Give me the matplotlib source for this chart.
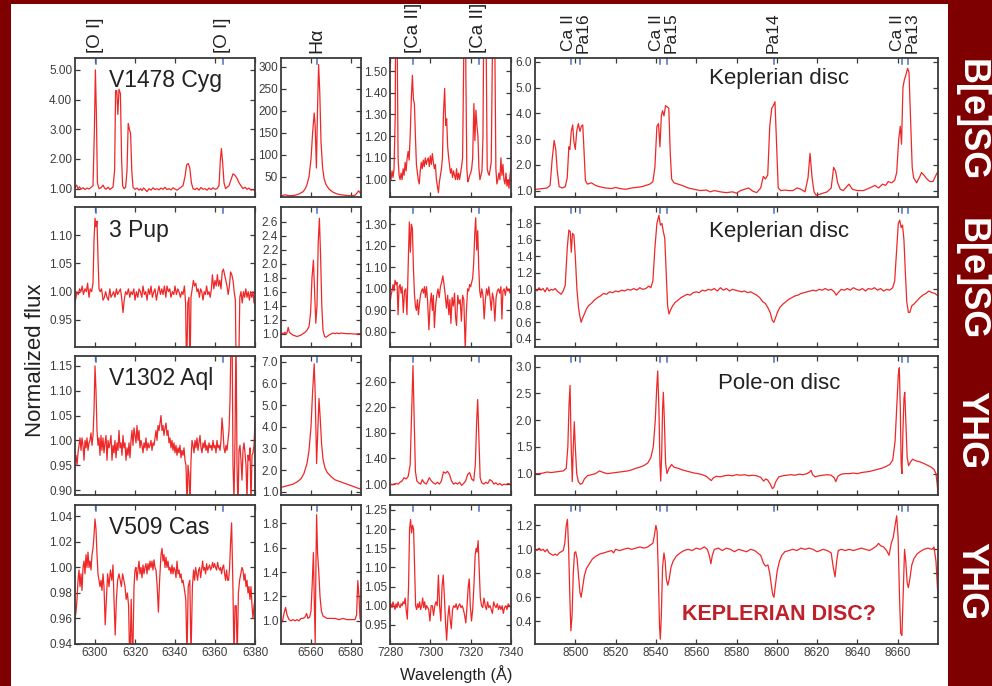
import numpy as np
import matplotlib
matplotlib.use("Agg")
import matplotlib.pyplot as plt
from matplotlib.patches import Rectangle
from matplotlib.ticker import FixedLocator, FormatStrFormatter

plt.rcParams['font.family'] = ['Liberation Sans', 'DejaVu Sans']

stars = ["V1478 Cyg", "3 Pup", "V1302 Aql", "V509 Cas"]
classes = ["B[e]SG", "B[e]SG", "YHG", "YHG"]
disc_notes = ["Keplerian disc", "Keplerian disc", "Pole-on disc", "KEPLERIAN DISC?"]

# line identifications, Angstrom
oi_lines = [6300.3, 6363.8]
ha_lines = [6562.8]
caf_lines = [7291.5, 7323.9]
tri_lines = [8498.0, 8502.5, 8542.1, 8545.4, 8598.4, 8662.1, 8665.0]
oi_labels = ["[O I]", "[O I]"]
ha_labels = ["H\u03b1"]
caf_labels = ["[Ca II]", "[Ca II]"]
tri_groups = [[8498.0, 8502.5], [8542.1, 8545.4], [8598.4], [8662.1, 8665.0]]
tri_labels = ["Ca II\nPa16", "Ca II\nPa15", "Pa14", "Ca II\nPa13"]

# ---- spectra: (wavelength, normalized flux) ----
cyg_oi = [(6290, 1.05), (6290.8, 1.12), (6291.5, 1.0), (6292.3, 1.06), (6293, 0.98), (6294, 1.03),
          (6295, 0.97), (6296, 1.02), (6297, 0.99), (6298, 1.04), (6299, 1.1), (6299.7, 3.0),
          (6300.2, 5.0), (6300.7, 3.5), (6301.2, 1.2), (6302, 1.0), (6303, 1.03), (6304, 1.12),
          (6304.8, 1.02), (6305.5, 0.98), (6306.5, 1.05), (6307.5, 0.97), (6308.3, 1.02), (6309, 1.05),
          (6309.8, 1.6), (6310.3, 4.3), (6310.9, 4.3), (6311.4, 3.5), (6312, 4.35), (6312.7, 4.2),
          (6313.3, 2.0), (6313.8, 1.1), (6314.5, 1.0), (6315.3, 1.05), (6316, 1.6), (6316.6, 3.2),
          (6317.2, 3.0), (6317.8, 2.85), (6318.4, 1.6), (6319, 1.05), (6320, 0.98), (6321, 1.02),
          (6322, 0.95), (6322.8, 1.0), (6323.5, 0.94), (6324.3, 1.02), (6325, 0.98), (6326, 0.9),
          (6327, 1.0), (6328, 0.95), (6329, 1.03), (6330, 0.97), (6331, 1.0), (6332, 0.96),
          (6333, 1.02), (6334, 0.98), (6335, 1.05), (6336, 0.97), (6337, 1.0), (6338, 0.96),
          (6339, 1.03), (6340, 0.99), (6341, 0.95), (6342, 1.0), (6343, 1.05), (6344, 1.1),
          (6345, 1.4), (6345.8, 1.8), (6346.6, 1.85), (6347.4, 1.7), (6348.2, 1.2), (6349, 1.0),
          (6350, 0.97), (6351, 1.02), (6352, 0.95), (6353, 1.04), (6354, 0.98), (6355, 1.0),
          (6356, 0.95), (6357, 1.02), (6358, 0.97), (6359, 1.03), (6360, 0.98), (6361, 1.0),
          (6362, 1.1), (6362.7, 2.0), (6363.2, 2.35), (6363.8, 1.9), (6364.5, 1.2), (6365.3, 1.0),
          (6366, 1.05), (6367, 1.1), (6368, 1.3), (6369, 1.5), (6370, 1.45), (6371, 1.35),
          (6372, 1.2), (6373, 1.1), (6374, 1.0), (6375, 1.05), (6376, 0.98), (6377, 1.02),
          (6378, 0.95), (6379, 0.97), (6380, 0.93)]

pup_oi = [(6290, 0.98), (6290.5, 0.99), (6291, 1.0), (6291.7, 0.995), (6292.3, 1.005), (6293, 1.0),
          (6293.6, 1.01), (6294.2, 0.995), (6295, 1.005), (6295.7, 1.0), (6296.3, 1.015), (6297, 0.99),
          (6297.6, 1.005), (6298.3, 1.0), (6299, 1.015), (6299.5, 1.09), (6300, 1.13), (6300.5, 1.115),
          (6301, 1.125), (6301.5, 1.06), (6302, 1.005), (6302.6, 1.0), (6303.3, 1.005), (6304, 0.985),
          (6304.7, 0.99), (6305.3, 1.0), (6306, 0.99), (6306.7, 0.985), (6307.4, 1.005), (6308, 0.99),
          (6308.7, 0.995), (6309.3, 1.0), (6310, 0.99), (6310.7, 1.005), (6311.3, 0.995), (6312, 1.0),
          (6312.7, 1.005), (6313.3, 0.99), (6314, 0.963), (6314.6, 0.985), (6315.3, 1.0), (6316, 0.995),
          (6316.7, 1.005), (6317.4, 0.99), (6318, 1.0), (6318.7, 0.995), (6319.4, 1.005), (6320, 0.985),
          (6320.7, 1.0), (6321.4, 0.99), (6322, 1.005), (6322.7, 1.0), (6323.4, 0.99), (6324, 1.01),
          (6324.7, 0.995), (6325.4, 1.0), (6326, 0.985), (6326.7, 1.005), (6327.4, 0.995), (6328, 1.01),
          (6328.7, 0.99), (6329.4, 1.0), (6330, 1.005), (6330.7, 0.985), (6331.4, 1.0), (6332, 1.01),
          (6332.7, 0.995), (6333.4, 1.005), (6334, 0.995), (6334.7, 1.01), (6335.4, 0.99), (6336, 1.01),
          (6336.7, 1.0), (6337.4, 1.005), (6338, 0.99), (6338.7, 1.0), (6339.4, 0.995), (6340, 1.01),
          (6340.7, 0.995), (6341.4, 1.005), (6342, 1.0), (6342.7, 0.99), (6343.4, 1.0), (6344, 0.995),
          (6344.7, 1.01), (6345.3, 0.98), (6345.8, 0.85), (6346.4, 0.98), (6347, 0.99), (6347.5, 0.85),
          (6348, 0.99), (6348.6, 1.005), (6349.2, 1.02), (6349.8, 1.01), (6350.4, 1.015), (6351, 1.0),
          (6351.6, 1.005), (6352.2, 0.99), (6352.8, 1.005), (6353.4, 1.0), (6354, 0.985), (6354.6, 1.0),
          (6355.2, 0.995), (6355.8, 1.01), (6356.4, 0.995), (6357, 1.0), (6357.6, 0.99), (6358.2, 1.005),
          (6358.7, 1.03), (6359.4, 1.005), (6360, 1.02), (6360.6, 1.01), (6361.2, 1.03), (6361.8, 1.01),
          (6362.4, 1.02), (6363, 1.005), (6363.6, 1.035), (6364.2, 1.04), (6364.8, 1.03), (6365.4, 1.02),
          (6366, 1.01), (6366.6, 0.995), (6367.2, 1.01), (6367.8, 1.035), (6368.4, 1.03), (6369, 1.02),
          (6369.6, 1.0), (6370.2, 0.985), (6370.6, 0.85), (6371.2, 0.9), (6371.8, 0.85), (6372.4, 0.99),
          (6373, 1.0), (6373.6, 0.98), (6374.2, 1.0), (6374.8, 0.99), (6375.4, 1.005), (6376, 0.99),
          (6376.6, 1.0), (6377.2, 0.985), (6377.8, 1.0), (6378.4, 0.99), (6379, 1.0), (6379.5, 0.98),
          (6380, 0.985)]

aql_oi = [(6290, 0.96), (6290.5, 0.97), (6291, 0.95), (6291.5, 0.975), (6292, 0.99), (6292.5, 1.005),
          (6293, 0.98), (6293.5, 1.005), (6294, 0.99), (6294.5, 0.96), (6295, 1.0), (6295.5, 0.985),
          (6296, 1.005), (6296.5, 0.98), (6297, 0.995), (6297.5, 1.0), (6298, 1.015), (6298.5, 0.99),
          (6299, 1.01), (6299.5, 1.06), (6300, 1.15), (6300.5, 1.1), (6301, 1.02), (6301.5, 0.99),
          (6302, 1.005), (6302.5, 0.97), (6303, 1.01), (6303.5, 0.98), (6304, 1.005), (6304.5, 0.975),
          (6305, 0.995), (6305.5, 1.01), (6306, 0.96), (6306.5, 1.0), (6307, 0.985), (6307.5, 0.995),
          (6308, 1.01), (6308.5, 0.96), (6309, 0.99), (6309.5, 0.975), (6310, 1.0), (6310.5, 0.965),
          (6311, 0.995), (6311.5, 0.98), (6312, 1.02), (6312.5, 0.985), (6313, 0.995), (6313.5, 0.97),
          (6314, 1.01), (6314.5, 0.985), (6315, 0.995), (6315.5, 0.96), (6316, 0.985), (6316.5, 0.97),
          (6317, 0.995), (6317.5, 0.965), (6318, 1.0), (6318.5, 1.02), (6319, 0.99), (6319.5, 1.025),
          (6320, 1.01), (6320.5, 0.995), (6321, 1.03), (6321.5, 1.0), (6322, 1.02), (6322.5, 0.985),
          (6323, 1.0), (6323.5, 0.99), (6324, 0.975), (6324.5, 0.995), (6325, 0.985), (6325.5, 1.005),
          (6326, 0.98), (6326.5, 0.995), (6327, 0.985), (6327.5, 0.99), (6328, 1.0), (6328.5, 0.98),
          (6329, 0.995), (6329.5, 0.99), (6330, 1.005), (6330.5, 1.02), (6331, 1.0), (6331.5, 1.03),
          (6332, 1.02), (6332.5, 1.035), (6333, 1.05), (6333.5, 1.02), (6334, 1.03), (6334.5, 1.01),
          (6335, 1.025), (6335.5, 1.035), (6336, 1.01), (6336.5, 1.02), (6337, 0.995), (6337.5, 1.005),
          (6338, 0.985), (6338.5, 1.0), (6339, 0.98), (6339.5, 0.995), (6340, 0.975), (6340.5, 0.99),
          (6341, 0.97), (6341.5, 0.985), (6342, 0.975), (6342.5, 0.99), (6343, 0.965), (6343.5, 0.98),
          (6344, 0.97), (6344.5, 0.985), (6345, 0.96), (6345.5, 0.95), (6346, 0.87), (6346.5, 0.95),
          (6347, 0.93), (6347.5, 0.87), (6348, 0.96), (6348.5, 1.0), (6349, 0.99), (6349.5, 0.975),
          (6350, 1.0), (6350.5, 0.985), (6351, 1.005), (6351.5, 0.98), (6352, 0.995), (6352.5, 1.01),
          (6353, 0.985), (6353.5, 0.975), (6354, 0.995), (6354.5, 0.985), (6355, 1.0), (6355.5, 0.98),
          (6356, 0.99), (6356.5, 0.975), (6357, 0.995), (6357.5, 0.985), (6358, 0.99), (6358.5, 0.98),
          (6359, 1.0), (6359.5, 0.985), (6360, 0.99), (6360.5, 0.975), (6361, 1.0), (6361.5, 0.985),
          (6362, 0.99), (6362.5, 0.98), (6363, 1.0), (6363.5, 1.045), (6364, 1.02), (6364.5, 0.985),
          (6365, 0.975), (6365.5, 0.99), (6366, 0.98), (6366.5, 1.0), (6367, 1.02), (6367.5, 1.08),
          (6368, 1.2), (6368.5, 1.25), (6369, 0.95), (6369.5, 0.88), (6370, 1.0), (6370.5, 1.22),
          (6371, 0.95), (6371.5, 0.86), (6372, 0.98), (6372.5, 0.99), (6373, 0.96), (6373.5, 0.92),
          (6374, 0.98), (6374.5, 0.995), (6375, 0.975), (6375.5, 0.95), (6376, 0.88), (6376.5, 0.97),
          (6377, 0.96), (6377.5, 0.985), (6378, 0.87), (6378.5, 0.97), (6379, 0.975), (6379.5, 0.99),
          (6380, 1.04)]

cas_oi = [(6290, 0.96), (6290.5, 0.965), (6291, 0.975), (6291.5, 0.99), (6292, 0.998), (6292.5, 0.985),
          (6293, 0.995), (6293.5, 0.982), (6294, 1.0), (6294.5, 1.005), (6295, 0.995), (6295.5, 1.01),
          (6296, 1.0), (6296.5, 1.012), (6297, 1.0), (6297.5, 1.005), (6298, 0.998), (6298.5, 1.01),
          (6299, 1.015), (6299.5, 1.025), (6300, 1.038), (6300.5, 1.03), (6301, 1.01), (6301.5, 0.995),
          (6302, 0.99), (6302.5, 0.985), (6303, 0.99), (6303.5, 0.982), (6304, 0.995), (6304.5, 0.985),
          (6305.1, 0.955), (6305.7, 0.975), (6306.3, 0.995), (6307, 0.985), (6307.7, 0.998), (6308.4, 0.99),
          (6309, 1.002), (6309.5, 0.975), (6310.1, 0.947), (6310.7, 0.975), (6311.3, 0.99), (6312, 0.995),
          (6312.6, 0.99), (6313.2, 0.985), (6313.8, 0.995), (6314.4, 0.99), (6315, 0.985), (6315.6, 0.975),
          (6316.2, 0.98), (6316.8, 0.97), (6317.4, 0.92), (6318.1, 0.975), (6318.8, 0.92), (6319.5, 0.985),
          (6320, 0.998), (6320.5, 1.0), (6321, 0.99), (6321.5, 0.998), (6322, 1.005), (6322.5, 0.995),
          (6323, 1.0), (6323.5, 0.992), (6324, 1.002), (6324.5, 0.995), (6325, 1.0), (6325.5, 1.003),
          (6326, 0.995), (6326.5, 1.003), (6327, 0.998), (6327.5, 1.005), (6328, 1.0), (6328.5, 1.005),
          (6329, 0.998), (6329.5, 1.006), (6330, 1.0), (6330.5, 0.998), (6331.1, 0.985), (6331.7, 0.965),
          (6332.3, 0.99), (6333, 1.01), (6333.5, 1.015), (6334, 1.005), (6334.5, 1.01), (6335, 1.0),
          (6335.5, 1.008), (6336, 1.0), (6336.5, 1.005), (6337, 0.998), (6337.5, 1.0), (6338, 0.995),
          (6338.5, 1.002), (6339, 0.995), (6339.5, 1.0), (6340, 0.998), (6340.5, 0.992), (6341, 1.005),
          (6341.5, 0.995), (6342, 0.998), (6342.5, 0.992), (6343, 0.995), (6343.5, 0.988), (6344, 0.99),
          (6344.5, 0.985), (6345.4, 0.975), (6346, 0.93), (6346.6, 0.985), (6347.4, 0.99), (6348, 0.93),
          (6348.7, 0.985), (6349.3, 0.998), (6349.8, 0.99), (6350.3, 1.0), (6350.8, 0.995), (6351.3, 0.99),
          (6351.8, 0.998), (6352.3, 1.0), (6352.8, 0.992), (6353.3, 0.998), (6353.8, 1.005), (6354.3, 0.998),
          (6354.8, 1.0), (6355.3, 0.995), (6355.8, 1.003), (6356.3, 0.998), (6356.8, 1.0), (6357.3, 1.002),
          (6357.8, 0.998), (6358.3, 1.0), (6358.8, 1.004), (6359.3, 1.0), (6359.8, 1.003), (6360.3, 1.0),
          (6360.8, 0.998), (6361.3, 1.004), (6361.8, 1.0), (6362.3, 0.998), (6362.8, 1.0), (6363.3, 0.995),
          (6363.8, 1.0), (6364.3, 1.002), (6364.8, 0.995), (6365.3, 0.99), (6365.8, 0.998), (6366.3, 0.99),
          (6366.8, 0.99), (6367.3, 1.0), (6367.8, 1.02), (6368.3, 1.035), (6368.9, 0.99), (6369.5, 0.93),
          (6370, 0.97), (6370.6, 0.97), (6371.1, 0.93), (6371.7, 0.98), (6372.3, 0.99), (6372.9, 0.995),
          (6373.5, 1.0), (6374, 0.998), (6374.5, 0.99), (6375, 0.995), (6375.5, 0.985), (6376, 0.99),
          (6376.5, 0.98), (6377, 0.985), (6377.5, 0.975), (6378, 0.985), (6378.5, 0.97), (6379, 0.96),
          (6379.5, 0.97), (6380, 0.975)]

cyg_ha = [(6545, 6), (6546, 8), (6547, 9), (6548, 8), (6549, 7), (6550, 7), (6552, 8), (6554, 11),
          (6556, 16), (6557, 22), (6558, 32), (6559, 50), (6560, 90), (6560.8, 150), (6561.6, 195),
          (6562.1, 165), (6562.7, 70), (6563.2, 190), (6563.8, 305), (6564.4, 240), (6565, 130),
          (6565.8, 70), (6566.6, 45), (6567.5, 32), (6569, 22), (6571, 15), (6573, 11), (6575, 9),
          (6577, 8), (6579, 7), (6581, 7), (6582, 8), (6583, 13), (6583.8, 18), (6584.5, 14), (6585, 10)]

pup_ha = [(6545, 1.0), (6545.5, 0.99), (6546, 1.01), (6546.5, 1.0), (6547, 1.02), (6547.5, 1.0),
          (6548, 1.01), (6548.6, 1.09), (6549.2, 1.02), (6550, 1.0), (6551, 0.98), (6552, 0.97),
          (6553, 0.96), (6554, 0.97), (6555, 0.98), (6556, 1.0), (6557, 1.02), (6558, 1.05),
          (6559, 1.1), (6559.8, 1.3), (6560.5, 1.8), (6561.2, 2.05), (6561.8, 1.6), (6562.4, 1.15),
          (6563, 1.4), (6563.6, 2.3), (6564.2, 2.65), (6564.8, 2.1), (6565.4, 1.4), (6566, 1.05),
          (6566.8, 0.96), (6567.5, 0.95), (6568.5, 0.97), (6569.5, 0.99), (6571, 1.01), (6572, 1.0),
          (6573, 1.01), (6574, 1.0), (6575, 1.01), (6576, 1.005), (6578, 1.0), (6580, 1.0),
          (6582, 0.995), (6584, 1.0), (6585, 1.0)]

aql_ha = [(6545, 1.2), (6547, 1.25), (6549, 1.3), (6551, 1.35), (6553, 1.45), (6555, 1.6),
          (6556.5, 1.85), (6558, 2.3), (6559, 2.9), (6560, 4.0), (6560.8, 5.6), (6561.6, 6.9),
          (6562.1, 5.5), (6562.8, 2.3), (6563.4, 3.8), (6564.0, 5.3), (6564.6, 4.4), (6565.3, 3.2),
          (6566, 2.5), (6567, 2.1), (6568, 1.9), (6570, 1.7), (6572, 1.55), (6575, 1.45),
          (6578, 1.35), (6581, 1.25), (6583, 1.18), (6585, 1.12)]

cas_ha = [(6545, 0.98), (6545.8, 1.0), (6546.5, 1.06), (6547.3, 1.11), (6548, 1.05), (6549, 1.01),
          (6550, 1.0), (6551, 1.01), (6552, 1.0), (6553, 1.01), (6554, 1.0), (6555, 1.02),
          (6556, 1.02), (6557, 1.03), (6557.8, 1.06), (6558.5, 1.02), (6559.3, 1.03), (6560, 1.08),
          (6560.6, 1.3), (6561.2, 1.56), (6561.6, 1.2), (6562.1, 0.82), (6562.5, 1.5), (6562.8, 1.87),
          (6563.3, 1.55), (6563.9, 1.4), (6564.5, 1.2), (6565.2, 1.08), (6566, 1.04), (6567, 1.03),
          (6568, 1.02), (6570, 1.02), (6572, 1.02), (6574, 1.01), (6576, 1.02), (6578, 1.01),
          (6580, 1.01), (6582, 1.01), (6582.8, 1.05), (6583.4, 1.33), (6584, 1.2), (6584.5, 1.02),
          (6585, 1.0)]

cyg_caf = [(7280, 1.03), (7280.5, 1.0), (7281, 1.04), (7281.5, 1.01), (7282, 1.05), (7282.6, 1.3),
           (7283.1, 2.5), (7283.6, 1.6), (7284, 1.1), (7284.5, 1.02), (7285, 1.0), (7285.5, 1.03),
           (7286, 1.0), (7286.5, 1.05), (7287, 1.02), (7287.5, 1.08), (7288, 1.04), (7288.5, 1.1),
           (7289, 1.13), (7289.5, 1.09), (7290, 1.2), (7290.6, 1.38), (7291.1, 1.48), (7291.6, 1.37),
           (7292.1, 1.35), (7292.6, 1.2), (7293.1, 1.07), (7293.6, 1.03), (7294, 1.0), (7294.5, 0.98),
           (7295, 1.04), (7295.5, 1.08), (7296, 1.05), (7296.5, 1.09), (7297, 1.06), (7297.5, 1.1),
           (7298, 1.07), (7298.5, 1.09), (7299, 1.1), (7299.5, 1.06), (7300, 1.11), (7300.5, 1.07),
           (7301, 1.12), (7301.5, 1.08), (7302, 1.05), (7302.5, 1.07), (7303, 1.0), (7303.5, 0.97),
           (7304, 0.94), (7304.5, 0.99), (7305, 1.02), (7305.5, 1.05), (7306, 1.1), (7306.5, 1.3),
           (7307.1, 1.42), (7307.6, 1.25), (7308.1, 1.28), (7308.6, 1.15), (7309.1, 1.1), (7309.6, 1.06),
           (7310, 1.03), (7310.5, 1.05), (7311, 1.01), (7311.5, 1.04), (7312, 1.02), (7312.5, 1.0),
           (7313, 1.05), (7313.5, 1.0), (7314, 1.03), (7314.5, 1.0), (7315, 1.03), (7315.5, 1.06),
           (7316, 1.1), (7316.6, 1.6), (7317.1, 2.8), (7317.6, 1.5), (7318.1, 1.05), (7318.6, 0.99),
           (7319, 1.0), (7319.5, 1.02), (7320, 1.03), (7320.5, 1.05), (7321, 1.1), (7321.6, 1.35),
           (7322.1, 1.18), (7322.6, 1.32), (7323.1, 1.25), (7323.6, 1.2), (7324.1, 1.05), (7324.6, 1.0),
           (7325.1, 1.02), (7325.6, 1.04), (7326.1, 1.2), (7326.7, 2.0), (7327.2, 2.8), (7327.7, 1.6),
           (7328.2, 1.05), (7328.7, 1.03), (7329.2, 1.02), (7329.7, 1.05), (7330.2, 1.08), (7330.8, 1.6),
           (7331.4, 2.5), (7332, 1.6), (7332.5, 1.05), (7333, 0.98), (7333.5, 1.0), (7334, 1.03),
           (7334.5, 1.0), (7335, 1.1), (7335.5, 1.02), (7336, 1.07), (7336.5, 1.0), (7337, 0.98),
           (7337.5, 1.03), (7338, 0.97), (7338.5, 1.0), (7339, 0.96), (7339.5, 1.02), (7340, 1.05)]

pup_caf = [(7280, 0.93), (7280.5, 0.97), (7281, 0.99), (7281.5, 1.02), (7282, 0.99), (7282.5, 1.04),
           (7283, 1.02), (7283.5, 1.03), (7284, 0.88), (7284.5, 1.01), (7285, 1.02), (7285.5, 0.98),
           (7286, 1.01), (7286.6, 0.89), (7287.2, 0.99), (7287.8, 1.0), (7288.4, 0.88), (7289, 1.1),
           (7289.6, 1.31), (7290.1, 1.17), (7290.6, 1.3), (7291.1, 1.28), (7291.6, 1.1), (7292.1, 0.98),
           (7292.6, 0.92), (7293.1, 0.9), (7293.6, 0.95), (7294.1, 0.88), (7294.6, 0.93), (7295.1, 0.97),
           (7295.6, 0.99), (7296.1, 1.0), (7296.6, 0.98), (7297.1, 1.01), (7297.6, 0.96), (7298.1, 1.01),
           (7298.6, 0.95), (7299.3, 0.81), (7299.9, 0.93), (7300.5, 0.98), (7301, 0.9), (7301.5, 0.97),
           (7302, 0.82), (7302.6, 0.92), (7303.2, 0.97), (7303.8, 1.0), (7304.4, 0.96), (7305, 1.01),
           (7305.6, 1.03), (7306.2, 1.06), (7306.8, 1.02), (7307.4, 0.97), (7308, 0.91), (7308.6, 0.97),
           (7309.2, 0.88), (7309.7, 0.95), (7310.2, 0.84), (7310.8, 0.96), (7311.4, 0.92), (7312, 0.98),
           (7312.5, 0.87), (7313, 0.83), (7313.6, 0.97), (7314.2, 0.93), (7314.8, 0.95), (7315.4, 0.85),
           (7316, 0.97), (7316.6, 0.95), (7317.3, 0.72), (7317.9, 0.9), (7318.5, 1.0), (7319, 0.99),
           (7319.5, 1.02), (7320, 1.01), (7320.5, 1.03), (7321, 1.05), (7321.5, 1.12), (7322, 1.25),
           (7322.5, 1.33), (7323, 1.18), (7323.5, 1.27), (7324, 1.1), (7324.5, 0.99), (7325, 0.96),
           (7325.5, 1.0), (7326.1, 0.97), (7326.7, 0.86), (7327.3, 0.95), (7327.9, 1.0), (7328.5, 0.97),
           (7329, 1.01), (7329.6, 0.96), (7330.2, 0.9), (7330.8, 0.98), (7331.4, 0.95), (7332, 0.85),
           (7332.6, 0.96), (7333.2, 0.99), (7333.8, 1.0), (7334.4, 0.98), (7335, 1.01), (7335.5, 0.86),
           (7336, 0.99), (7336.6, 1.0), (7337.2, 0.97), (7337.8, 1.01), (7338.4, 0.99), (7339, 1.0),
           (7339.5, 0.98), (7340, 0.99)]

aql_caf = [(7280, 1.0), (7281, 0.99), (7282, 1.0), (7283, 1.01), (7284, 1.0), (7285, 1.03),
           (7286, 1.05), (7287, 1.1), (7288, 1.08), (7289, 1.12), (7290, 1.3), (7290.8, 2.2),
           (7291.4, 2.85), (7292, 2.0), (7292.6, 1.2), (7293.3, 1.05), (7294.2, 1.02), (7295.2, 1.0),
           (7296, 1.07), (7297, 1.02), (7298, 1.0), (7299.5, 1.1), (7300.5, 1.05), (7301.5, 1.02),
           (7302.5, 1.0), (7303.5, 1.03), (7304.5, 1.0), (7305.5, 1.05), (7306.5, 1.19), (7307.5, 1.17),
           (7308.5, 1.2), (7309.5, 1.15), (7310.5, 1.05), (7311.5, 1.0), (7312.5, 1.02), (7313.5, 1.0),
           (7314.5, 1.03), (7315.5, 0.98), (7316.5, 1.01), (7317.5, 1.05), (7318.5, 1.15), (7319.5, 1.18),
           (7320.5, 1.08), (7321.5, 1.05), (7322.3, 1.3), (7323, 2.0), (7323.5, 2.32), (7324, 1.8),
           (7324.7, 1.1), (7325.5, 1.02), (7326.5, 1.0), (7327.5, 1.03), (7328.5, 1.01), (7329.5, 1.07),
           (7330.5, 1.05), (7331.5, 1.0), (7332.5, 1.02), (7333.5, 0.99), (7334.5, 1.01), (7335.5, 0.98),
           (7336.5, 1.0), (7337.5, 0.99), (7338.5, 1.01), (7339.5, 1.0), (7340, 0.98)]

cas_caf = [(7280, 1.0), (7280.5, 1.005), (7281, 0.995), (7281.5, 1.01), (7282, 1.0), (7282.5, 0.99),
           (7283, 1.005), (7283.5, 0.995), (7284, 1.01), (7284.5, 1.0), (7285, 0.995), (7285.5, 1.005),
           (7286, 1.0), (7286.5, 1.01), (7287, 1.005), (7287.5, 1.02), (7288, 0.99), (7288.6, 0.965),
           (7289.2, 1.05), (7289.7, 1.2), (7290.2, 1.225), (7290.7, 1.19), (7291.2, 1.21), (7291.7, 1.2),
           (7292.2, 1.1), (7292.7, 1.0), (7293.2, 0.99), (7293.7, 1.005), (7294.2, 0.995), (7294.7, 1.01),
           (7295.2, 0.99), (7295.7, 1.0), (7296.2, 1.02), (7296.7, 0.995), (7297.2, 1.01), (7297.7, 0.99),
           (7298.2, 1.0), (7298.7, 0.995), (7299.2, 0.99), (7299.8, 0.96), (7300.4, 1.0), (7301, 1.0),
           (7301.6, 0.975), (7302.2, 1.0), (7302.8, 1.01), (7303.4, 1.0), (7304, 1.08), (7304.6, 1.0),
           (7305.2, 0.96), (7305.8, 1.05), (7306.4, 1.08), (7307, 1.02), (7307.6, 0.95), (7308.1, 0.91),
           (7308.7, 0.97), (7309.3, 1.0), (7309.9, 0.96), (7310.4, 0.94), (7311, 0.99), (7311.6, 1.0),
           (7312.2, 0.995), (7312.8, 1.005), (7313.4, 0.99), (7314, 1.0), (7314.6, 1.005), (7315.2, 0.995),
           (7315.8, 1.0), (7316.4, 0.99), (7317, 0.975), (7317.6, 0.955), (7318.2, 1.0), (7318.8, 1.05),
           (7319.3, 1.07), (7319.8, 1.0), (7320.4, 0.96), (7321, 0.99), (7321.6, 1.05), (7322.2, 1.13),
           (7322.7, 1.15), (7323.2, 1.14), (7323.7, 1.17), (7324.2, 1.1), (7324.8, 1.02), (7325.4, 1.0),
           (7326, 0.995), (7326.6, 1.02), (7327.2, 1.0), (7327.8, 0.99), (7328.4, 1.01), (7329, 0.995),
           (7329.6, 1.0), (7330.2, 0.99), (7330.8, 0.98), (7331.4, 1.01), (7332, 1.0), (7332.6, 0.995),
           (7333.2, 1.005), (7333.8, 0.99), (7334.4, 1.0), (7335, 0.99), (7335.6, 1.0), (7336.2, 0.98),
           (7336.8, 0.995), (7337.4, 1.0), (7338, 0.99), (7338.6, 1.005), (7339.2, 1.0), (7340, 0.995)]

cyg_tri = [(8480, 1.05), (8482, 1.06), (8484, 1.08), (8486, 1.1), (8487.5, 1.2), (8488.5, 2.2),
           (8489.5, 2.95), (8490.3, 2.6), (8491, 1.8), (8492, 1.15), (8493.5, 1.1), (8495, 1.15),
           (8496, 1.5), (8496.8, 2.7), (8497.3, 2.6), (8498, 3.3), (8498.7, 3.55), (8499.3, 2.9),
           (8500, 2.6), (8500.7, 3.3), (8501.5, 3.6), (8502.3, 3.3), (8503, 3.5), (8503.7, 3.55),
           (8504.3, 2.6), (8505, 1.4), (8506, 1.25), (8508, 1.3), (8510, 1.2), (8512, 1.15),
           (8515, 1.1), (8518, 1.08), (8520, 1.12), (8522, 1.08), (8525, 1.05), (8528, 1.1),
           (8530, 1.12), (8533, 1.15), (8535, 1.2), (8537, 1.25), (8538.5, 1.35), (8539.5, 1.9),
           (8540.5, 3.5), (8541.3, 3.6), (8542, 2.7), (8542.7, 3.9), (8543.3, 4.1), (8544, 3.9),
           (8544.8, 4.3), (8545.6, 4.25), (8546.4, 4.2), (8547.1, 2.5), (8547.8, 1.45), (8549, 1.3),
           (8551, 1.25), (8553, 1.2), (8556, 1.1), (8559, 1.05), (8562, 1.0), (8565, 1.02),
           (8567, 0.95), (8569, 1.0), (8572, 0.95), (8575, 0.92), (8578, 0.95), (8580, 0.9),
           (8582, 1.0), (8584, 1.05), (8586, 1.1), (8588, 0.98), (8590, 0.92), (8592, 1.1),
           (8593.3, 1.55), (8594.3, 1.45), (8595.5, 1.6), (8596.5, 3.5), (8597.5, 4.2), (8598.3, 4.3),
           (8599.1, 4.45), (8599.8, 3.0), (8600.7, 1.1), (8602, 1.0), (8604, 1.02), (8606, 1.0),
           (8608, 1.0), (8610, 1.1), (8612, 1.05), (8614, 0.95), (8615.5, 1.5), (8616.5, 2.45),
           (8617.5, 1.5), (8618.5, 0.95), (8619.5, 0.82), (8621, 0.85), (8623, 0.9), (8625, 0.95),
           (8627, 1.1), (8628.2, 1.9), (8629.2, 1.75), (8630.2, 1.3), (8631.5, 1.05), (8633, 1.0),
           (8635.8, 1.25), (8637.5, 1.05), (8640, 1.0), (8643, 1.0), (8646, 1.1), (8648.7, 1.2),
           (8650.5, 1.1), (8652.5, 1.25), (8654, 1.2), (8655.3, 1.35), (8657, 1.3), (8658.5, 1.4),
           (8659.5, 1.7), (8660.5, 3.0), (8661.3, 3.5), (8661.9, 2.8), (8662.6, 5.0), (8663.3, 5.3),
           (8664.1, 5.5), (8664.9, 5.75), (8665.6, 5.6), (8666.4, 3.8), (8667.2, 1.9), (8667.9, 1.5),
           (8669.4, 1.3), (8671, 1.55), (8671.8, 1.7), (8673, 1.6), (8674.5, 1.45), (8676, 1.35),
           (8677.5, 1.35), (8679, 1.6), (8680, 1.75)]

pup_tri = [(8480, 1.0), (8481, 0.98), (8482, 1.02), (8483, 0.99), (8484, 1.01), (8485, 0.97),
           (8486, 1.02), (8487, 0.98), (8488, 1.0), (8489, 0.99), (8490, 1.01), (8491, 0.98),
           (8492, 0.96), (8493, 0.94), (8494, 0.98), (8495, 1.05), (8496, 1.5), (8496.8, 1.72),
           (8497.5, 1.7), (8498, 1.45), (8498.6, 1.68), (8499.3, 1.66), (8500, 1.4), (8500.8, 1.0),
           (8501.6, 0.78), (8502.2, 0.68), (8502.9, 0.6), (8503.6, 0.65), (8504.5, 0.7), (8505.5, 0.76),
           (8506.5, 0.8), (8508, 0.83), (8509.5, 0.87), (8511, 0.9), (8512.5, 0.92), (8514, 0.95),
           (8515.5, 0.94), (8517, 0.97), (8518.5, 0.96), (8520, 0.98), (8521.5, 0.97), (8523, 0.99),
           (8524.5, 0.98), (8526, 1.0), (8527.5, 0.99), (8529, 1.01), (8530.5, 0.99), (8532, 1.02),
           (8533.5, 1.0), (8535, 1.01), (8536.5, 1.04), (8537.5, 1.02), (8538.5, 1.1), (8539.5, 1.5),
           (8540.5, 1.8), (8541.5, 1.9), (8542.2, 1.78), (8543, 1.8), (8543.7, 1.7), (8544.4, 1.62),
           (8545.1, 1.2), (8545.8, 0.8), (8546.5, 0.7), (8547.3, 0.75), (8548.3, 0.8), (8549.5, 0.84),
           (8551, 0.87), (8552.5, 0.9), (8554, 0.92), (8555.5, 0.94), (8557, 0.93), (8558.5, 0.96),
           (8560, 0.97), (8561.5, 0.96), (8563, 0.99), (8564.5, 0.98), (8566, 1.0), (8567.5, 0.99),
           (8569, 1.01), (8570.5, 0.98), (8572, 1.02), (8573.5, 0.99), (8575, 1.01), (8576.5, 0.98),
           (8578, 1.0), (8579.5, 0.99), (8581, 0.98), (8582.5, 0.97), (8584, 0.98), (8585.5, 0.96),
           (8587, 0.97), (8588.5, 0.95), (8590, 0.93), (8591.5, 0.9), (8593, 0.85), (8594.3, 0.83),
           (8595.5, 0.78), (8596.7, 0.72), (8597.8, 0.62), (8598.5, 0.6), (8599.3, 0.65), (8600.3, 0.72),
           (8601.5, 0.78), (8603, 0.82), (8604.5, 0.85), (8606, 0.88), (8607.5, 0.9), (8609, 0.92),
           (8610.5, 0.93), (8612, 0.95), (8613.5, 0.96), (8615, 0.97), (8616.5, 0.98), (8618, 0.99),
           (8619.5, 0.98), (8621, 1.0), (8622.5, 0.99), (8624, 1.01), (8625.5, 0.99), (8627, 1.0),
           (8628.5, 0.97), (8629.5, 0.93), (8630.5, 0.96), (8632, 1.0), (8633.5, 0.99), (8635, 1.01),
           (8636.5, 0.99), (8638, 1.02), (8639.5, 1.0), (8641, 0.99), (8642.5, 1.01), (8644, 0.98),
           (8645.5, 1.01), (8647, 1.0), (8648.5, 1.02), (8650, 0.99), (8651.5, 1.01), (8653, 0.98),
           (8654.5, 1.0), (8656, 0.99), (8657.5, 1.02), (8658.5, 1.1), (8659.5, 1.5), (8660.3, 1.8),
           (8661, 1.84), (8661.7, 1.75), (8662.4, 1.78), (8663.1, 1.6), (8663.8, 1.2), (8664.5, 0.85),
           (8665.3, 0.72), (8666, 0.72), (8667, 0.8), (8668, 0.82), (8669.5, 0.86), (8671, 0.9),
           (8672.5, 0.93), (8674, 0.95), (8675.5, 0.98), (8677, 0.96), (8678.5, 0.95), (8680, 0.92)]

aql_tri = [(8480, 1.0), (8482, 1.0), (8484, 1.01), (8486, 1.03), (8488, 1.02), (8490, 1.03),
           (8492, 1.04), (8494, 1.05), (8495.5, 1.1), (8496.3, 1.5), (8496.9, 2.3), (8497.4, 2.65),
           (8497.9, 1.6), (8498.5, 0.85), (8499, 1.5), (8499.5, 1.97), (8500, 1.5), (8500.7, 1.0),
           (8501.5, 0.85), (8502.5, 0.8), (8503.5, 0.82), (8504.5, 0.9), (8506, 0.96), (8508, 0.98),
           (8510, 1.0), (8512, 1.05), (8514, 1.02), (8516, 1.0), (8518, 1.01), (8520, 1.02),
           (8522, 1.03), (8524, 1.04), (8526, 1.05), (8528, 1.07), (8530, 1.1), (8532, 1.12),
           (8534, 1.15), (8536, 1.2), (8537.5, 1.3), (8538.7, 1.5), (8539.7, 2.0), (8540.4, 2.6),
           (8540.9, 2.92), (8541.5, 2.2), (8542.0, 1.2), (8542.4, 0.86), (8542.9, 1.4), (8543.3, 2.2),
           (8543.7, 2.52), (8544.2, 2.0), (8544.8, 1.2), (8545.5, 1.0), (8546.5, 1.1), (8547.8, 1.17),
           (8549, 1.12), (8551, 1.1), (8553, 1.07), (8555, 1.05), (8557, 1.03), (8559, 1.01),
           (8561, 1.0), (8563, 0.98), (8565, 0.95), (8566.5, 0.9), (8567.5, 0.87), (8568.5, 0.92),
           (8570, 0.95), (8572, 0.94), (8574, 0.96), (8576, 0.97), (8578, 0.96), (8580, 0.98),
           (8582, 0.97), (8584, 0.98), (8586, 0.96), (8588, 0.97), (8590, 0.96), (8592, 0.93),
           (8593.5, 0.86), (8594.5, 0.9), (8595.5, 0.88), (8596.8, 0.8), (8597.8, 0.72), (8598.5, 0.74),
           (8599.5, 0.85), (8601, 0.94), (8603, 0.96), (8605, 0.97), (8607, 0.98), (8609, 0.97),
           (8611, 0.99), (8613, 0.98), (8615, 1.0), (8616.3, 1.03), (8617, 1.06), (8617.8, 0.98),
           (8619, 0.94), (8621, 0.96), (8623, 0.97), (8625, 0.98), (8627, 0.97), (8628.5, 0.92),
           (8629.3, 0.85), (8630.3, 0.95), (8632, 0.99), (8634, 1.0), (8636, 1.0), (8638, 1.01),
           (8640, 1.0), (8642, 1.02), (8644, 1.03), (8646, 1.04), (8648, 1.06), (8650, 1.08),
           (8652, 1.1), (8654, 1.13), (8656, 1.17), (8657.5, 1.25), (8658.7, 1.6), (8659.6, 2.3),
           (8660.3, 2.85), (8660.8, 2.98), (8661.3, 2.2), (8661.7, 1.2), (8662.1, 1.0), (8662.6, 1.8),
           (8663.1, 2.4), (8663.5, 2.52), (8664, 2.0), (8664.7, 1.3), (8665.4, 1.15), (8666.4, 1.22),
           (8667.4, 1.27), (8669, 1.24), (8671, 1.22), (8673, 1.19), (8675, 1.15), (8676.6, 1.12),
           (8678, 1.08), (8679, 1.0), (8679.6, 0.8), (8680, 0.62)]

cas_tri = [(8480, 1.0), (8481, 0.99), (8482, 1.01), (8483, 0.99), (8484, 1.0), (8485, 0.98),
           (8486, 1.0), (8487, 0.97), (8488, 0.96), (8489, 0.95), (8490, 0.96), (8491, 0.95),
           (8492, 0.97), (8493, 0.98), (8494, 0.99), (8494.8, 1.05), (8495.5, 1.2), (8496.1, 1.25),
           (8496.7, 1.0), (8497.3, 0.6), (8497.8, 0.32), (8498.4, 0.45), (8499, 0.8), (8499.6, 0.97),
           (8500.2, 0.98), (8500.9, 0.92), (8501.6, 0.78), (8502.3, 0.64), (8502.9, 0.6), (8503.6, 0.68),
           (8504.5, 0.78), (8505.5, 0.84), (8507, 0.88), (8508.5, 0.92), (8510, 0.94), (8512, 0.96),
           (8514, 0.97), (8516, 0.98), (8518, 0.99), (8519, 0.97), (8520, 1.0), (8522, 0.99),
           (8524, 1.0), (8526, 1.01), (8528, 1.0), (8530, 1.01), (8532, 1.02), (8534, 1.01),
           (8536, 1.02), (8537.5, 1.04), (8538.5, 1.05), (8539.3, 1.12), (8540, 1.2), (8540.6, 1.15),
           (8541.2, 0.8), (8541.8, 0.35), (8542.2, 0.25), (8542.7, 0.45), (8543.3, 0.85), (8544, 0.97),
           (8544.6, 0.9), (8545.2, 0.75), (8545.9, 0.7), (8546.6, 0.75), (8547.5, 0.85), (8548.5, 0.9),
           (8550, 0.94), (8552, 0.97), (8554, 0.99), (8556, 1.0), (8558, 0.99), (8560, 1.01),
           (8562, 1.0), (8564, 1.02), (8565.5, 1.0), (8566.5, 0.95), (8567.3, 0.88), (8568, 0.95),
           (8569, 1.0), (8571, 1.01), (8573, 0.99), (8575, 1.01), (8577, 1.0), (8579, 0.98),
           (8581, 1.0), (8583, 0.99), (8585, 0.98), (8587, 1.0), (8589, 0.99), (8590.5, 0.97),
           (8592, 0.95), (8593.5, 0.88), (8594.5, 0.86), (8595.6, 0.87), (8596.5, 0.8), (8597.3, 0.7),
           (8598, 0.62), (8598.6, 0.6), (8599.3, 0.7), (8600.2, 0.82), (8601.3, 0.9), (8602.5, 0.95),
           (8604, 0.98), (8606, 0.99), (8608, 1.0), (8610, 0.99), (8612, 1.01), (8614, 1.0),
           (8616, 1.01), (8618, 1.0), (8620, 0.98), (8621.5, 0.99), (8623, 1.0), (8625, 0.99),
           (8627, 0.97), (8628, 0.85), (8628.9, 0.77), (8629.7, 0.9), (8630.5, 0.99), (8632, 1.0),
           (8634, 0.99), (8636, 1.0), (8638, 0.99), (8640, 1.0), (8642, 1.01), (8644, 1.0),
           (8646, 0.99), (8648, 1.01), (8649.5, 1.03), (8650.5, 1.05), (8651.5, 1.03), (8653, 1.02),
           (8654.5, 0.99), (8655.7, 0.95), (8656.8, 1.05), (8657.8, 1.1), (8658.7, 1.2), (8659.5, 1.28),
           (8660.2, 1.1), (8660.9, 0.6), (8661.5, 0.3), (8662.1, 0.28), (8662.7, 0.6), (8663.4, 1.0),
           (8664, 0.9), (8664.7, 0.72), (8665.3, 0.68), (8666, 0.75), (8667, 0.87), (8668, 0.92),
           (8669.5, 0.96), (8671, 0.98), (8673, 1.0), (8675, 1.01), (8677, 1.0), (8678, 1.02),
           (8679, 0.9), (8679.5, 0.75), (8680, 0.6)]

spectra = [[cyg_oi, cyg_ha, cyg_caf, cyg_tri],
           [pup_oi, pup_ha, pup_caf, pup_tri],
           [aql_oi, aql_ha, aql_caf, aql_tri],
           [cas_oi, cas_ha, cas_caf, cas_tri]]

# ---- axis setup ----
xlims = [(6290, 6380), (6545, 6585), (7280, 7340), (8480, 8680)]
xticks = [[6300, 6320, 6340, 6360, 6380], [6560, 6580], [7280, 7300, 7320, 7340],
          [8500, 8520, 8540, 8560, 8580, 8600, 8620, 8640, 8660]]
ylims = [[(0.72, 5.4), (4, 320), (0.92, 1.56), (0.75, 6.15)],
         [(0.902, 1.15), (0.81, 2.81), (0.73, 1.38), (0.30, 2.0)],
         [(0.89, 1.17), (0.85, 7.26), (0.83, 3.0), (0.60, 3.2)],
         [(0.94, 1.049), (0.81, 1.95), (0.90, 1.263), (0.21, 1.37)]]
yticks = [[[1, 2, 3, 4, 5], [50, 100, 150, 200, 250, 300], [1.0, 1.1, 1.2, 1.3, 1.4, 1.5], [1, 2, 3, 4, 5, 6]],
          [[0.95, 1.0, 1.05, 1.10], [1.0, 1.2, 1.4, 1.6, 1.8, 2.0, 2.2, 2.4, 2.6],
           [0.8, 0.9, 1.0, 1.1, 1.2, 1.3], [0.4, 0.6, 0.8, 1.0, 1.2, 1.4, 1.6, 1.8]],
          [[0.90, 0.95, 1.0, 1.05, 1.10, 1.15], [1, 2, 3, 4, 5, 6, 7],
           [1.0, 1.4, 1.8, 2.2, 2.6], [1.0, 1.5, 2.0, 2.5, 3.0]],
          [[0.94, 0.96, 0.98, 1.0, 1.02, 1.04], [1.0, 1.2, 1.4, 1.6, 1.8],
           [0.95, 1.0, 1.05, 1.10, 1.15, 1.20, 1.25], [0.4, 0.6, 0.8, 1.0, 1.2]]]
yfmt = [["%.2f", "%d", "%.2f", "%.1f"],
        ["%.2f", "%.1f", "%.2f", "%.1f"],
        ["%.2f", "%.1f", "%.2f", "%.1f"],
        ["%.2f", "%.1f", "%.2f", "%.1f"]]

W, H = 992, 686
col_px = [(75, 255), (281, 361), (390, 511), (535, 938)]
row_px = [(58, 197), (207, 347), (356, 495), (505, 644)]

line_color = '#ee1c1c'
id_color = '#4a6fc4'
frame_color = '#3a3a3a'
tick_text = '#3c3c3c'

fig = plt.figure(figsize=(W / 100, H / 100), dpi=100)
fig.patch.set_facecolor('#7f0000')
fig.add_artist(Rectangle((11 / W, 0), 937 / W, 682 / H, transform=fig.transFigure,
                         facecolor='white', edgecolor='none', zorder=0))

id_lines = [oi_lines, ha_lines, caf_lines, tri_lines]

for r in range(4):
    for c in range(4):
        x0, x1 = col_px[c]
        y0, y1 = row_px[r]
        ax = fig.add_axes([x0 / W, 1 - y1 / H, (x1 - x0) / W, (y1 - y0) / H])
        w, f = zip(*spectra[r][c])
        ax.plot(w, f, color=line_color, lw=0.9, alpha=0.95)
        ax.set_xlim(*xlims[c])
        ax.set_ylim(*ylims[r][c])
        for lw_ in id_lines[c]:
            ax.axvline(lw_, ymin=0.955, ymax=1.0, color=id_color, lw=1.1)
        ax.xaxis.set_major_locator(FixedLocator(xticks[c]))
        ax.yaxis.set_major_locator(FixedLocator(yticks[r][c]))
        ax.yaxis.set_major_formatter(FormatStrFormatter(yfmt[r][c]))
        ax.tick_params(direction='in', top=True, right=True, length=3.5, width=0.9,
                       color=frame_color, labelcolor=tick_text, labelsize=8.5, pad=2)
        if r < 3:
            ax.tick_params(labelbottom=False)
        for s in ax.spines.values():
            s.set_color(frame_color)
            s.set_linewidth(1.3)

        if c == 0:
            ax.text(0.19, 0.835, stars[r], transform=ax.transAxes, fontsize=16.5,
                    color='#222222', ha='left', va='center')
        if c == 3:
            if r == 3:
                ax.text(0.605, 0.215, disc_notes[r], transform=ax.transAxes, fontsize=15.5,
                        fontweight='bold', color='#c0202a', ha='center', va='center')
            else:
                ypos = [0.85, 0.825, 0.80][r]
                ax.text(0.605, ypos, disc_notes[r], transform=ax.transAxes, fontsize=16,
                        color='#222222', ha='center', va='center')

        if r == 0:
            tr = ax.get_xaxis_transform()
            if c == 0:
                for lw_, lab in zip(oi_lines, oi_labels):
                    ax.text(lw_, 1.035, lab, transform=tr, rotation=90, ha='center',
                            va='bottom', fontsize=13.5, color='#222222')
            elif c == 1:
                for lw_, lab in zip(ha_lines, ha_labels):
                    ax.text(lw_, 1.035, lab, transform=tr, rotation=90, ha='center',
                            va='bottom', fontsize=14, color='#222222')
            elif c == 2:
                for lw_, lab in zip(caf_lines, caf_labels):
                    ax.text(lw_, 1.035, lab, transform=tr, rotation=90, ha='center',
                            va='bottom', fontsize=13.5, color='#222222', clip_on=False)
            else:
                for grp, lab in zip(tri_groups, tri_labels):
                    ax.text(np.mean(grp), 1.035, lab, transform=tr, rotation=90, ha='center',
                            va='bottom', fontsize=12.5, color='#222222', linespacing=0.95)

fig.text(36 / W, 1 - 360 / H, "Normalized flux", rotation=90, ha='center', va='center',
         fontsize=16, color='#222222')
fig.text(456 / W, 1 - 674 / H, "Wavelength (\u00c5)", ha='center', va='center',
         fontsize=11.8, color='#222222')

class_y = [120, 279, 430, 581]
for lab, yc in zip(classes, class_y):
    fig.text(971 / W, 1 - yc / H, lab, rotation=-90, ha='center', va='center',
             fontsize=26, fontweight='bold', color='white')

fig.savefig("out.png", dpi=100, facecolor=fig.get_facecolor())
